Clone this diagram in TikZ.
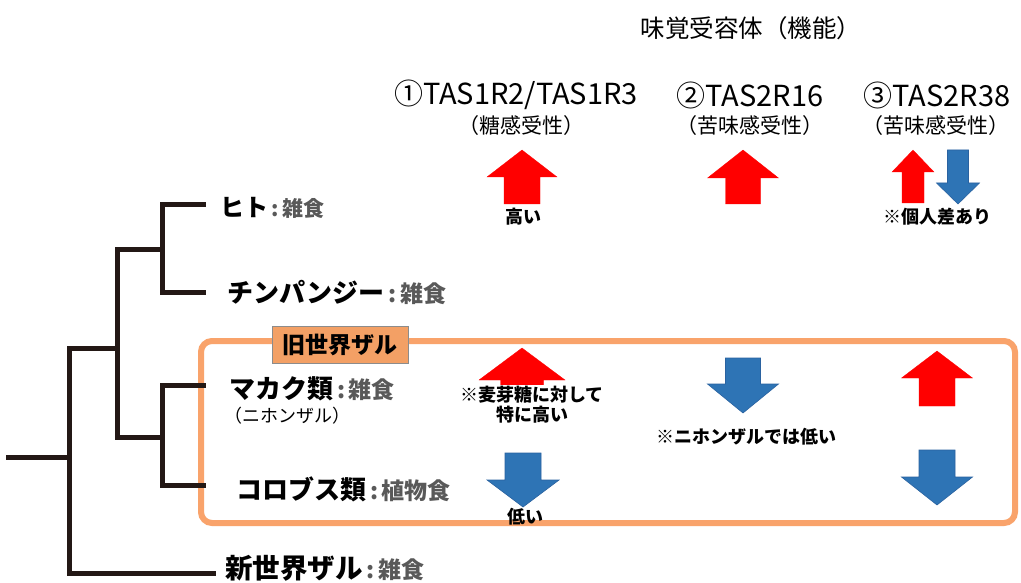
\documentclass[tikz,border=0pt]{standalone}
\usepackage{fontspec}
\setmainfont{Noto Sans CJK JP}
\definecolor{treec}{HTML}{231815}
\definecolor{orgline}{HTML}{F9A36B}
\definecolor{orgfill}{HTML}{F3A065}
\definecolor{suffc}{HTML}{595959}
\definecolor{arrred}{HTML}{FF0000}
\definecolor{arrblue}{HTML}{2E74B5}
\definecolor{arrblueline}{HTML}{2A62A0}
\newcommand\fsz[1]{\fontsize{#1}{#1}\selectfont}
\newcommand\suf[2][23]{{\color{suffc}\fsz{#1}\,:\,#2}}
% block arrow: style, cx, tip y, head-base y, shaft-end y, half shaft, half head
\newcommand\blockarr[7]{%
  \filldraw[#1] ({#2-#6},#5) -- ({#2-#6},#4) -- ({#2-#7},#4) -- (#2,#3) --
    ({#2+#7},#4) -- ({#2+#6},#4) -- ({#2+#6},#5) -- cycle;}
\tikzset{
  tree/.style={draw=treec, line width=5pt, line join=miter, line cap=rect},
  namelab/.style={anchor=west, inner sep=0pt, font=\bfseries\fsz{26}},
  title/.style={inner sep=0pt, font=\fsz{29}},
  subtitle/.style={inner sep=0pt, font=\fsz{21}},
  note/.style={inner sep=0pt, font=\bfseries\fsz{18}, align=center},
  redarr/.style={fill=arrred, draw=arrred, line width=0.3pt},
  bluearr/.style={fill=arrblue, draw=arrblueline, line width=0.6pt},
}
\begin{document}
\begin{tikzpicture}[x=1pt,y=-1pt]
\useasboundingbox (0,0) rectangle (1021,583);
\fill[white] (0,0) rectangle (1021,583);

% Old-world box
\draw[orgline, line width=6pt, rounded corners=11pt] (201,341) rectangle (1015,523);
\node[draw=black!45, line width=0.6pt, fill=orgfill, minimum width=136pt, minimum height=37pt, inner sep=0pt,
      font=\bfseries\fsz{23}] (old) at (340,344.5) {旧世界ザル};

% tree
\coordinate (root) at (8,457);
\coordinate (r0) at (69,457);
\coordinate (nw) at (213,573);
\coordinate (a0) at (69,573);
\coordinate (a1) at (69,348);
\coordinate (b0) at (117,348);
\coordinate (b1) at (117,249);
\coordinate (b2) at (117,437);
\coordinate (c1) at (162,249);
\coordinate (c2) at (162,437);
\coordinate (h0) at (162,205);
\coordinate (h1) at (203,205);
\coordinate (p0) at (162,292);
\coordinate (p1) at (203,292);
\coordinate (m0) at (162,385);
\coordinate (m1) at (203,385);
\coordinate (k0) at (162,485);
\coordinate (k1) at (203,485);
\draw[tree] (root) -- (r0);
\draw[tree] (nw) -- (a0) -- (a1) -- (b0);
\draw[tree] (c1) -- (b1) -- (b2) -- (c2);
\draw[tree] (h1) -- (h0) -- (p0) -- (p1);
\draw[tree] (m1) -- (m0) -- (k0) -- (k1);

% species labels
\node[namelab, font=\bfseries\fsz{24}] (hito) at (220,208) {ヒト\suf[21]{雑食}};
\node[namelab] (chimp) at (227,292) {チンパンジー\suf{雑食}};
\node[namelab] (macaca) at (229,389) {マカク類\suf{雑食}};
\node[anchor=west, inner sep=0pt, font=\fsz{18}] (nihon) at (224,416) {（ニホンザル）};
\node[namelab] (colobus) at (236,489) {コロブス類\suf{植物食}};
\node[namelab, font=\bfseries\fsz{27.5}] (newworld) at (225,568.5) {新世界ザル\suf{雑食}};

% header
\node[inner sep=0pt, font=\fsz{24.5}] (head) at (751,28) {味覚受容体（機能）};
\node[title] (t1) at (516,95) {①TAS1R2/TAS1R3};
\node[subtitle] (s1) at (521,126) {（糖感受性）};
\node[title] (t2) at (750,95) {②TAS2R16};
\node[subtitle] (s2) at (750,126) {（苦味感受性）};
\node[title] (t3) at (937,95) {③TAS2R38};
\node[subtitle] (s3) at (936,126) {（苦味感受性）};

% arrows: top row (human)
\blockarr{redarr}{522}{150}{177}{204}{18}{35}
\blockarr{redarr}{743}{150}{178}{204}{17.5}{35.5}
\blockarr{redarr}{913}{150}{172}{203}{11}{21}
\blockarr{bluearr}{958}{204}{183}{150}{10.5}{21.5}
% macaque row
\blockarr{redarr}{522}{348}{380}{402}{21.5}{43}
\blockarr{bluearr}{743}{413}{384}{358}{17.5}{35.5}
\blockarr{redarr}{937}{351}{378}{406}{18}{35.5}
% colobus row
\blockarr{bluearr}{523}{507}{480}{453}{18}{36}
\blockarr{bluearr}{937}{505}{477}{450}{18}{35.5}

% notes
\node[note] (n1) at (523,217) {高い};
\node[note] (n2) at (937,217) {※個人差あり};
\node[note, fill=white, inner sep=1.5pt] (n3) at (532,405) {※麦芽糖に対して\\[2pt]特に高い};
\node[note] (n4) at (746,437) {※ニホンザルでは低い};
\node[note] (n5) at (525,517) {低い};
\end{tikzpicture}
\end{document}
